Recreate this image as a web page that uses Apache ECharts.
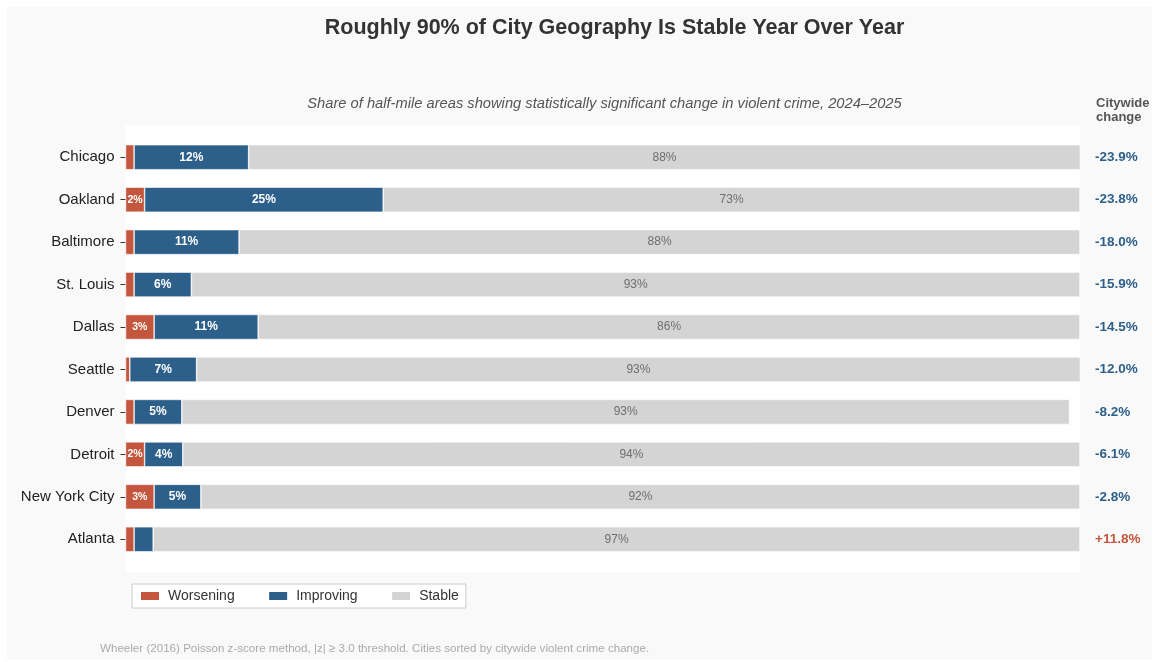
<!DOCTYPE html>
<html>
<head>
<meta charset="utf-8">
<script src="https://cdn.jsdelivr.net/npm/echarts@6/dist/echarts.min.js"></script>
<style>
html,body{margin:0;padding:0;background:#fff;}
#c{width:1154px;height:662px;}
</style>
</head>
<body>
<div id="c"></div>
<script>
const cities = ['Chicago','Oakland','Baltimore','St. Louis','Dallas','Seattle','Denver','Detroit','New York City','Atlanta'];
const worsening = [0.9, 2.0, 0.9, 0.9, 3.0, 0.45, 0.9, 2.0, 3.0, 0.9];
const improving = [12.0, 25.0, 11.0, 6.0, 10.9, 7.0, 5.0, 4.0, 4.9, 2.0];
const stable = [87.5, 73.0, 88.1, 93.1, 86.1, 92.6, 93.0, 94.0, 92.1, 97.1];
const citywideChange = ['-23.9%','-23.8%','-18.0%','-15.9%','-14.5%','-12.0%','-8.2%','-6.1%','-2.8%','+11.8%'];

const RED = '#c4563d', BLUE = '#2c5f8a', GRAY = '#d4d4d4';
const FONT = '"Liberation Sans", Arial, Helvetica, sans-serif';

const chart = echarts.init(document.getElementById('c'));
chart.setOption({
  backgroundColor: '#ffffff',
  animation: false,
  textStyle: { fontFamily: FONT },
  graphic: [
    { type: 'rect', z: -20, silent: true, shape: { x: 7, y: 7, width: 1145, height: 653 }, style: { fill: '#f9f9f9' } },
    { type: 'rect', z: -10, silent: true, shape: { x: 125.5, y: 125, width: 954.5, height: 447 }, style: { fill: '#ffffff' } }
  ],
  title: [
    { text: 'Roughly 90% of City Geography Is Stable Year Over Year', left: 614.5, top: 17, padding: 0, textAlign: 'center',
      textStyle: { fontFamily: FONT, fontSize: 21.5, fontWeight: 'bold', color: '#333333' } },
    { text: 'Share of half-mile areas showing statistically significant change in violent crime, 2024\u20132025', left: 604.5, top: 96, padding: 0, textAlign: 'center',
      textStyle: { fontFamily: FONT, fontSize: 14.7, fontStyle: 'italic', fontWeight: 'normal', color: '#555555' } },
    { text: 'Citywide\nchange', left: 1096, top: 96, padding: 0,
      textStyle: { fontFamily: FONT, fontSize: 13, fontWeight: 'bold', color: '#555555', lineHeight: 14 } },
    { text: 'Wheeler (2016) Poisson z-score method, |z| \u2265 3.0 threshold. Cities sorted by citywide violent crime change.', left: 100, top: 643, padding: 0,
      textStyle: { fontFamily: FONT, fontSize: 11.6, fontWeight: 'normal', color: '#aaaaaa' } }
  ],
  legend: {
    left: 132, top: 584, padding: [5, 7], itemGap: 32.5, itemWidth: 20, itemHeight: 10,
    backgroundColor: '#ffffff', borderColor: '#cccccc', borderWidth: 1, borderRadius: 0,
    icon: 'rect',
    textStyle: { fontFamily: FONT, fontSize: 14, color: '#333333', padding: [0, 0, 0, 3] },
    data: ['Worsening', 'Improving', 'Stable']
  },
  grid: { left: 125.5, right: 74, top: 136, bottom: 101.5, containLabel: false },
  xAxis: { type: 'value', min: 0, max: 100, show: false },
  yAxis: [
    { type: 'category', data: cities, inverse: true,
      axisLine: { show: false },
      axisTick: { show: true, length: 5, lineStyle: { color: '#333333', width: 1 }, alignWithLabel: true },
      axisLabel: { fontFamily: FONT, fontSize: 15, color: '#222222', margin: 11 } },
    { type: 'category', data: cities, inverse: true, position: 'right',
      axisLine: { show: false }, axisTick: { show: false },
      axisLabel: { margin: 15, align: 'left',
        formatter: function (v, i) { const s = citywideChange[i]; return s.charAt(0) === '+' ? '{p|' + s + '}' : '{n|' + s + '}'; },
        rich: {
          n: { fontFamily: FONT, fontSize: 13.5, fontWeight: 'bold', color: BLUE },
          p: { fontFamily: FONT, fontSize: 13.5, fontWeight: 'bold', color: RED }
        } } }
  ],
  series: [
    { name: 'Worsening', type: 'bar', stack: 'all', barWidth: 25, data: worsening,
      itemStyle: { color: RED, borderColor: '#ffffff', borderWidth: 0.6 },
      label: { show: true, position: 'inside', color: '#ffffff', fontFamily: FONT, fontSize: 10.5, fontWeight: 'bold',
        formatter: p => p.value >= 1.5 ? Math.round(p.value) + '%' : '' } },
    { name: 'Improving', type: 'bar', stack: 'all', barWidth: 25, data: improving,
      itemStyle: { color: BLUE, borderColor: '#ffffff', borderWidth: 0.6 },
      label: { show: true, position: 'inside', color: '#ffffff', fontFamily: FONT, fontSize: 12, fontWeight: 'bold',
        formatter: p => p.value >= 2.5 ? Math.round(p.value) + '%' : '' } },
    { name: 'Stable', type: 'bar', stack: 'all', barWidth: 25, data: stable, clip: true,
      itemStyle: { color: GRAY, borderColor: '#ffffff', borderWidth: 0.6 },
      label: { show: true, position: 'inside', color: '#6e6e6e', fontFamily: FONT, fontSize: 12,
        formatter: p => Math.round(p.value) + '%' } }
  ]
});
</script>
</body>
</html>
